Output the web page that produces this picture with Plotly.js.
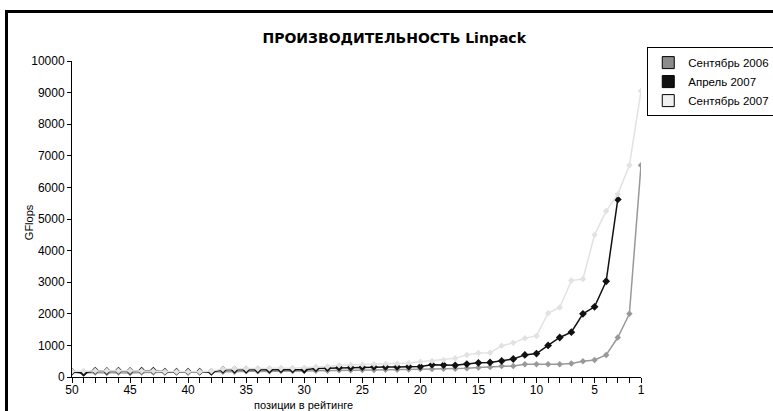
<!DOCTYPE html>
<html>
<head>
<meta charset="utf-8">
<script src="https://cdn.plot.ly/plotly-3.0.1.min.js"></script>
<style>
html,body{margin:0;padding:0;background:#fff;}
#chart{width:773px;height:411px;position:absolute;left:0;top:0;}
#frame{position:absolute;left:5px;top:10px;width:800px;height:420px;border-left:3px solid #000;border-top:3px solid #000;pointer-events:none;}
</style>
</head>
<body>
<div id="chart"></div>
<div id="frame"></div>
<script>
// positions in the rating (50 .. 1)
const positions = [50,49,48,47,46,45,44,43,42,41,40,39,38,37,36,35,34,33,32,31,30,29,28,27,26,25,24,23,22,21,20,19,18,17,16,15,14,13,12,11,10,9,8,7,6,5,4,3,2,1];
const positionsApr = positions.slice(0, 48); // 50 .. 3

const sep2006 = [150,130,140,130,140,130,140,140,150,150,150,150,160,170,170,180,180,180,190,190,190,200,200,210,210,220,220,230,230,240,250,250,260,265,275,300,317,350,350,400,400,400,400,430,500,540,700,1250,2000,6700];
const apr2007 = [170,130,200,190,200,190,200,200,170,170,170,170,160,230,230,230,230,230,240,240,230,270,280,300,300,310,320,320,320,330,330,390,380,370,410,450,460,510,570,700,740,1000,1250,1420,2000,2220,3030,5620];
const sep2007 = [180,190,200,200,200,200,190,190,170,170,170,170,190,250,260,260,260,270,280,280,290,320,330,370,380,390,400,410,420,440,480,510,540,590,700,760,770,990,1080,1230,1300,2020,2200,3050,3100,4500,5250,5780,6700,9050];

const seriesNames = ['Сентябрь 2006','Апрель 2007','Сентябрь 2007'];
const seriesColors = ['#999999','#111111','#e2e2e2'];
const legendColors = ['#8c8c8c','#111111','#f0f0f0'];

const xTickVals = positions;
const xTickText = positions.map(p => (p % 5 === 0 || p === 1) ? String(p) : '');
const yTickVals = [0,1000,2000,3000,4000,5000,6000,7000,8000,9000,10000];
const yTickText = ['0','1000','2000','3000','4000','5000','6000','7000','8000','9000','10000'];

const chartTitle = 'ПРОИЗВОДИТЕЛЬНОСТЬ Linpack';
const xTitle = 'позиции в рейтинге';
const yTitle = 'GFlops';

const font = 'Liberation Sans, Arial, sans-serif';
const titleFont = 'DejaVu Sans, Liberation Sans, sans-serif';

const xs = [positions, positionsApr, positions];
const ys = [sep2006, apr2007, sep2007];
const markerSizes = [5, 6, 5];
const order = [0,1,2];

const traces = [];
order.forEach(i => {
  traces.push({
    type: 'scatter', mode: 'lines+markers',
    x: xs[i], y: ys[i], name: seriesNames[i], showlegend: false,
    line: {color: seriesColors[i], width: 1.5},
    marker: {color: seriesColors[i], symbol: 'diamond', size: markerSizes[i]}
  });
});
order.forEach(i => {
  traces.push({
    type: 'bar', x: [null], y: [null], name: seriesNames[i], showlegend: true,
    marker: {color: legendColors[i], line: {color: '#000', width: 1}}
  });
});

const layout = {
  width: 773, height: 411,
  margin: {l: 72, r: 132, t: 61, b: 34, pad: 0, autoexpand: false},
  paper_bgcolor: '#fff', plot_bgcolor: '#fff',
  font: {family: font, size: 12, color: '#000'},
  title: {text: '<b>' + chartTitle + '</b>', font: {family: titleFont, size: 14, color: '#000'},
          xref: 'container', x: 0.51, xanchor: 'center', yref: 'container', y: 0.907, yanchor: 'middle'},
  showlegend: true,
  legend: {x: 1.011, xanchor: 'left', y: 1.044, yanchor: 'top', bgcolor: '#fff',
           bordercolor: '#000', borderwidth: 1, font: {family: font, size: 11.5, color: '#000'},
           tracegroupgap: 0, itemwidth: 30},
  xaxis: {
    range: [50, 1], autorange: false, tickmode: 'array', tickvals: xTickVals, ticktext: xTickText,
    ticks: 'outside', ticklen: 5, tickcolor: '#000', tickwidth: 1, ticklabelstandoff: -3,
    showline: true, linecolor: '#000', linewidth: 1, showgrid: false, zeroline: false,
    tickfont: {family: font, size: 12, color: '#000'}, automargin: false
  },
  yaxis: {
    range: [0, 10000], autorange: false, tickmode: 'array', tickvals: yTickVals, ticktext: yTickText,
    ticks: 'outside', ticklen: 4, tickcolor: '#000', tickwidth: 1,
    showline: true, linecolor: '#000', linewidth: 1, showgrid: false, zeroline: false,
    tickfont: {family: font, size: 12, color: '#000'}, automargin: false
  },
  annotations: [{
    text: xTitle, xref: 'paper', yref: 'paper', x: (303-72)/569, y: 0, yshift: -28,
    xanchor: 'center', yanchor: 'middle', showarrow: false,
    font: {family: font, size: 11, color: '#000'}
  }, {
    text: yTitle, xref: 'paper', yref: 'paper', x: (29-72)/569, y: 0.49, textangle: -90,
    xanchor: 'center', yanchor: 'middle', showarrow: false,
    font: {family: font, size: 11, color: '#000'}
  }]
};

Plotly.newPlot('chart', traces, layout, {displayModeBar: false, staticPlot: true});
</script>
</body>
</html>
